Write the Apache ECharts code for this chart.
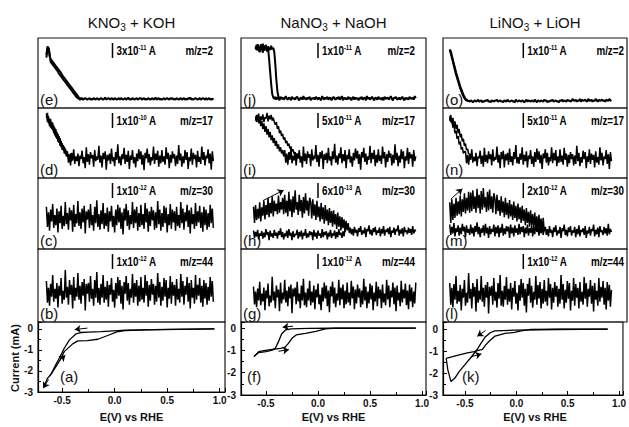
<!DOCTYPE html>
<html><head><meta charset="utf-8">
<script src="https://cdn.jsdelivr.net/npm/echarts@6/dist/echarts.min.js"></script>
<style>html,body{margin:0;padding:0;background:#fff}#c{width:629px;height:427px}</style>
</head><body><div id="c"></div>
<script>
// ---------- potential grid for the mass-spec traces (V vs RHE) ----------
const E = [
-0.65,-0.64,-0.63,-0.62,-0.61,-0.60,-0.59,-0.58,-0.57,-0.56,
-0.55,-0.54,-0.53,-0.52,-0.51,-0.50,-0.49,-0.48,-0.47,-0.46,
-0.45,-0.44,-0.43,-0.42,-0.41,-0.40,-0.39,-0.38,-0.37,-0.36,
-0.35,-0.34,-0.33,-0.32,-0.31,-0.30,-0.29,-0.28,-0.27,-0.26,
-0.25,-0.24,-0.23,-0.22,-0.21,-0.20,-0.19,-0.18,-0.17,-0.16,
-0.15,-0.14,-0.13,-0.12,-0.11,-0.10,-0.09,-0.08,-0.07,-0.06,
-0.05,-0.04,-0.03,-0.02,-0.01,0.00,0.01,0.02,0.03,0.04,
0.05,0.06,0.07,0.08,0.09,0.10,0.11,0.12,0.13,0.14,
0.15,0.16,0.17,0.18,0.19,0.20,0.21,0.22,0.23,0.24,
0.25,0.26,0.27,0.28,0.29,0.30,0.31,0.32,0.33,0.34,
0.35,0.36,0.37,0.38,0.39,0.40,0.41,0.42,0.43,0.44,
0.45,0.46,0.47,0.48,0.49,0.50,0.51,0.52,0.53,0.54,
0.55,0.56,0.57,0.58,0.59,0.60,0.61,0.62,0.63,0.64,
0.65,0.66,0.67,0.68,0.69,0.70,0.71,0.72,0.73,0.74,
0.75,0.76,0.77,0.78,0.79,0.80,0.81,0.82,0.83,0.84,
0.85,0.86,0.87,0.88,0.89,0.90,0.91,0.92,0.93,0.94];
const _ = null;

// ---------- KNO3 + KOH : ion currents (relative panel units 0-100) ----------
const e1 = [72,84,86,79,66,64,62,60,58,56,54,52,49,47,45,43,41,39,37,35,33,31,29,27,25,23,21,19,17,15,
14,13,12,13,14,12,13,14,13,12,13,14,12,13,12,14,13,12,14,13,12,13,14,13,12,13,15,12,13,14,
13,12,14,13,12,14,13,12,13,14,12,14,13,12,13,14,12,13,15,12,13,12,14,13,12,13,14,12,13,14,
14,12,13,14,12,13,12,14,13,12,13,14,12,13,15,12,13,14,12,13,12,13,14,12,13,14,13,12,14,13,
14,12,13,12,14,13,12,13,14,12,13,14,12,13,12,14,13,15,12,13,12,13,14,13,12,13,14,12,13,14,
13,12,14,12,13,14,12,13,12,14];
const e2 = [76,88,85,74,70,68,66,64,62,60,58,56,54,52,50,47,45,43,41,39,37,35,33,31,29,27,25,23,21,19,17,15,14,13,13,12];
const d1 = [92,80,88,74,84,70,79,64,72,58,66,52,60,46,53,40,47,35,42,31,
38,22,33,18,36,25,41,20,31,24,35,17,32,27,39,21,30,14,44,23,34,19,37,28,33,16,40,24,31,26,
46,22,32,15,36,27,38,12,33,25,35,20,42,24,30,17,37,26,48,21,31,18,34,27,43,20,33,23,39,13,
32,26,40,21,30,15,35,24,41,27,38,19,33,11,36,28,42,22,34,18,30,25,45,20,35,26,39,16,32,21,
40,23,31,19,44,27,36,14,33,22,38,28,34,17,32,20,47,25,35,16,31,21,40,26,37,13,30,24,42,19,
36,27,33,15,39,23,30,20,45,26,37,18,32,28,41,21,35,12,38,24];
const d2 = [86,93,78,85,72,80,68,75,61,70,56,63,50,57,44,50,40,45,34,39,30,34,27,35,24,31];
const c1 = [56,34,50,30,53,40,59,33,47,36,54,28,51,38,57,32,46,35,61,37,49,31,55,41,52,29,58,34,48,38,
62,35,50,32,54,39,57,27,51,42,53,33,59,36,47,30,56,38,63,34,48,31,52,37,60,32,49,35,55,29,
51,40,57,34,46,28,53,36,58,39,55,32,50,26,54,41,59,35,52,31,47,37,61,33,53,38,56,30,49,34,
58,36,48,32,60,39,54,29,51,35,56,41,52,31,50,33,62,37,53,30,49,34,57,38,55,28,48,36,59,32,
53,39,51,30,56,35,47,33,61,38,54,31,50,40,58,34,52,27,55,37,48,32,60,35,51,39,57,33,50,29,
56,36,53,31,49,34,58,38,54,33];
const b1 = [52,30,45,27,49,36,58,31,44,34,50,25,47,37,55,29,42,33,63,35,46,28,53,38,48,24,56,32,45,36,
60,33,47,29,51,37,54,22,49,39,50,31,57,34,44,27,53,35,61,30,45,28,49,35,58,30,46,33,52,26,
48,38,55,31,43,25,50,34,56,37,53,29,47,23,51,39,57,32,50,28,44,35,59,30,50,36,53,27,47,31,
56,33,45,30,58,37,52,26,48,32,54,38,49,28,47,31,60,35,51,27,46,32,55,36,53,25,45,34,57,29,
51,37,48,27,54,33,44,30,59,36,52,28,47,38,56,31,50,24,53,35,45,29,58,33,48,37,55,30,47,26,
53,34,50,28,46,32,56,36,52,31];

// ---------- NaNO3 + NaOH ----------
const j1 = [_,_,_,_,_,84,90,82,88,80,91,85,79,89,83,87,81,86,70,52,34,20,15,
13,16,12,15,14,11,16,13,15,12,14,17,13,12,15,14,11,16,13,14,12,15,16,13,11,14,15,12,17,13,
14,12,15,13,16,11,14,13,15,12,16,14,12,15,13,11,17,14,12,15,13,16,12,14,15,11,14,16,13,12,
15,13,16,12,14,17,11,15,13,14,12,16,13,15,11,14,16,12,15,13,14,11,15,13,16,12,14,15,11,17,
13,15,12,14,16,13,11,15,14,12,16,13,14,12,15,11,16,13,14,15,12,14,17,13,11,15,14,16,12,13,
15,12,14,16,13,11,15,13,14,12,16,14,13,15,12,17,14];
const j2 = [_,_,_,_,_,88,83,91,86,80,89,84,92,82,87,90,81,88,85,83,89,84,86,80,62,40,24,16,14,13];
const i1 = [_,_,_,_,_,88,80,90,78,85,74,82,70,78,66,74,62,70,58,66,54,61,50,57,46,53,42,48,38,44,35,40,31,
40,22,35,19,37,26,43,21,32,25,36,18,33,28,40,22,31,15,45,24,35,20,38,29,34,17,41,25,32,27,
47,23,33,16,37,28,39,13,34,26,36,21,43,25,31,18,38,27,49,22,32,19,35,28,44,21,34,24,40,14,
33,27,41,22,31,16,36,25,42,28,39,20,34,12,37,29,43,23,35,19,31,26,46,21,36,27,40,17,33,22,
41,24,32,20,45,28,37,15,34,23,39,29,35,18,33,21,48,26,36,17,32,22,41,27,38,14,31,25,43,20,
37,28,34,16,40,24,31];
const i2 = [_,_,_,_,_,82,90,84,92,79,88,83,91,80,87,85,93,81,89,84,90,82,86,80,
76,80,70,74,64,68,60,63,55,58,50,53,46,49,42,45,38,41,34,37,31,35,28,33,27];
const h1 = [_,_,_,58,36,60,40,55,42,64,38,57,46,66,41,60,47,70,44,63,49,72,45,66,52,62,48,73,50,64,54,
70,48,74,50,66,45,78,52,68,44,72,50,80,54,64,47,74,52,67,43,71,49,76,53,66,46,70,
64,42,68,46,61,40,66,44,58,38,63,41,57,35,60,39,54,33,56,36,52,31,53,34,48,28,50,31,45,26,44,29,41,24,39,26,36,23,
30,21,28,19,31,23,27,18,29,24,32,20,26,22,30,17,28,25,33,21,27,19,29,24,31,20,26,23,30,18,
28,22,32,19,27,24,29,21,31,17,26,23,30,20,28,25,33,19,27,22,29,18,31,24,26,21,30,23,28,20,
32,22,27,25];
const h2 = [_,_,_,26,16,24,18,27,14,22,19,25,15,23,17,28,20,24,13,26,18,22,16,27,19,23,15,25,20,29,17,24,14,
22,18,26,16,28,19,23,13,25,17,21,20,27,15,24,18,26,14,23,19,28,16,22,17,25,20,24,13,27,18,
23,15,26,19,22,16,28,17,24,20,25,14,23,18,27,16,22,19,26,15,24,17,28,20,23,16,25,18,27];
const g1 = [_,_,_,45,27,40,24,43,31,50,26,38,30,44,21,41,33,48,25,36,29,55,31,40,23,46,34,42,20,49,28,39,32,
52,29,41,25,45,33,47,18,43,35,44,27,50,30,38,23,46,31,53,26,39,24,43,31,51,26,40,29,46,22,
42,34,48,27,37,21,44,30,49,33,46,25,41,19,45,35,50,28,44,24,38,31,52,26,44,32,47,23,41,27,
49,29,39,26,51,33,45,22,42,28,47,34,43,24,41,27,53,31,45,23,40,28,48,32,46,21,39,30,50,25,
45,33,42,23,47,29,38,26,52,32,46,24,41,34,49,27,44,20,46,31,39,25,51,29,42,33,48,26,41,22,
47,30,44,24,40,28,49];

// ---------- LiNO3 + LiOH ----------
const o1 = [84,78,72,66,60,54,48,43,38,33,28,24,20,17,14,12,11,10,
10,9,11,10,8,10,11,9,10,12,9,10,11,8,10,9,11,10,12,9,10,8,11,10,9,11,10,12,9,10,
11,9,10,8,11,10,9,12,10,9,10,11,9,10,8,12,10,9,11,10,9,11,10,8,10,12,9,11,10,9,
11,10,9,12,10,8,11,10,9,11,10,9,12,10,11,8,10,9,11,10,12,9,10,11,9,10,8,11,10,12,
9,11,10,9,12,10,11,9,10,13,11,10,12,9,11,10,13,9,12,10,11,12,10,9,13,11,10,12,9,11,
10,13,11,9,12,10,11,12,10,11,9,12,11,10,13,11,10,_,_,_,_,_];
const o2 = [80,82,75,69,63,57,51,46,41,36,31,27,23,19,16,13,12,11,10,10];
const n1 = [88,80,84,72,76,64,68,56,60,48,52,41,44,35,38,
38,21,33,19,35,26,41,22,30,24,36,17,31,28,39,20,32,16,43,23,33,21,38,27,34,18,41,24,30,26,
45,22,33,14,37,27,39,15,34,25,36,19,42,23,31,18,37,27,47,21,30,20,35,26,44,19,33,24,38,15,
32,27,40,20,31,16,37,23,42,26,38,21,33,13,35,28,41,22,36,18,30,24,44,21,36,25,40,17,31,22,
41,23,32,19,43,26,35,16,33,21,37,27,34,18,32,20,46,24,36,17,30,22,39,27,37,14,31,23,41,20,
35,26,33,15,38,22,30,19,44,25,36,18,31,27,40,20,34,13,37,24,_,_,_,_,_];
const n2 = [82,90,78,86,74,81,70,76,64,70,58,63,52,56,46,49,40,42,34];
const m1 = [64,36,68,40,62,43,70,46,65,48,73,45,68,51,76,49,70,53,78,50,
77,52,80,55,72,50,82,56,74,49,79,54,83,57,71,51,78,53,81,55,72,50,76,
69,48,74,52,67,46,72,50,65,44,70,47,63,42,67,45,61,40,65,43,59,38,62,41,57,36,59,39,54,33,56,36,51,31,53,33,48,29,50,30,45,26,47,28,42,24,43,25,
31,20,28,18,32,23,27,17,30,24,33,19,26,22,31,16,29,25,34,20,27,18,30,24,32,19,26,23,31,17,
28,21,33,18,27,24,29,20,32,16,26,22,31,19,28,25,34,18,27,21,30,17,32,24,26,20,31,22,29,19,
35,21,28,24,_,_,_,_,_];
const m2 = [34,20,31,22,36,18,29,24,33,19,30,21,35,25,31,17,33,23,28,20,34,22,30,18,32,24,37,21,31,17,
29,23,33,19,35,22,30,16,32,21,28,24,34,18,31,22,33,17,30,23,35,19,29,21,32,25,31,16,34,22,
30,18,33,23,29,20,35,21,31,24,32,17,30,22,34,19,29,23,33,18,31,21,36,24,30,19,32,22,34,20,28];
const l1 = [50,28,45,25,49,33,57,29,42,31,48,22,44,35,53,27,40,30,60,34,44,24,50,36,46,21,54,30,42,33,
57,31,45,26,48,35,51,19,46,37,47,28,55,32,41,25,50,34,58,27,42,26,47,33,56,28,44,31,50,23,
45,36,52,29,40,22,48,32,54,35,50,27,44,20,49,37,55,30,47,25,41,33,57,28,48,34,51,24,44,29,
53,31,42,27,55,35,49,23,45,30,51,36,47,26,44,29,58,33,49,24,43,30,52,34,50,22,42,32,55,27,
49,35,45,24,51,31,41,28,56,34,50,26,44,36,53,29,47,21,50,33,42,27,55,31,46,35,52,28,45,23,
51,32,48,26,43,_,_,_,_,_];

// ---------- cyclic voltammograms: E (V) and current (mA) ----------
const aUpE = [0.95,0.5,0.1,0.03,-0.13,-0.25,-0.32,-0.37,-0.43,-0.48,-0.52,-0.57,-0.60,-0.64,-0.67];
const aUpI = [0.0,-0.02,-0.06,-0.08,-0.13,-0.15,-0.17,-0.24,-0.52,-0.92,-1.32,-1.79,-2.11,-2.35,-2.71];
const aLoE = [-0.62,-0.59,-0.52,-0.48,-0.40,-0.35,-0.26,-0.16,-0.06,0.02,0.10,0.30,0.95];
const aLoI = [-2.25,-2.03,-1.48,-1.08,-0.71,-0.57,-0.56,-0.49,-0.30,-0.14,-0.08,-0.04,0.0];
const fUpE = [0.94,0.5,0.1,-0.09,-0.26,-0.31,-0.35,-0.38,-0.41,-0.44,-0.50,-0.57,-0.60,-0.615];
const fUpI = [0.0,-0.01,-0.01,-0.02,-0.04,-0.08,-0.27,-0.61,-0.91,-0.99,-1.06,-1.10,-1.21,-1.28];
const fLoE = [-0.615,-0.57,-0.52,-0.44,-0.36,-0.32,-0.285,-0.25,-0.21,-0.12,-0.02,0.07,0.17,0.40,0.94];
const fLoI = [-1.28,-1.06,-1.01,-0.96,-0.91,-0.87,-0.69,-0.46,-0.31,-0.24,-0.15,-0.04,0.0,0.0,0.0];
const kUpE = [0.89,0.4,-0.017,-0.21,-0.255,-0.30,-0.34,-0.38,-0.436,-0.49,-0.557,-0.60,-0.636,-0.667,-0.683];
const kUpI = [0.0,-0.02,-0.05,-0.08,-0.17,-0.35,-0.62,-0.92,-1.26,-1.56,-1.94,-2.24,-2.39,-1.86,-1.33];
const kLoE = [-0.683,-0.62,-0.556,-0.476,-0.41,-0.38,-0.33,-0.30,-0.26,-0.207,-0.11,-0.017,0.047,0.14,0.40,0.89];
const kLoI = [-1.33,-1.26,-1.18,-1.08,-1.03,-0.98,-0.92,-0.73,-0.53,-0.32,-0.20,-0.15,-0.08,-0.02,0.0,0.0];

// scan-direction arrows [x1,y1,x2,y2] in data units
const arrowsA = [[-0.26,0.04,-0.38,-0.03],[-0.53,-1.52,-0.47,-1.25],[-0.63,-2.4,-0.68,-2.82]];
const arrowsF = [[-0.24,0.08,-0.34,0.04],[-0.38,-1.04,-0.28,-0.97]];
const arrowsK = [[-0.30,-0.07,-0.38,-0.33],[-0.44,-1.26,-0.34,-1.13]];
const arrowH = [-0.53,66,-0.33,80];
const arrowM = [-0.64,68,-0.53,82];

// labels
const titles = ['KNO{s|3} + KOH','NaNO{s|3} + NaOH','LiNO{s|3} + LiOH'];
const scaleMant = [['3x10','1x10','1x10','1x10'],['1x10','5x10','6x10','1x10'],['1x10','5x10','2x10','1x10']];
const scaleExp  = [['-11','-10','-12','-12'],['-11','-11','-13','-12'],['-11','-11','-12','-12']];
const mzLabels = ['m/z=2','m/z=17','m/z=30','m/z=44'];
const panelLetters = [['(e)','(d)','(c)','(b)','(a)'],['(j)','(i)','(h)','(g)','(f)'],['(o)','(n)','(m)','(l)','(k)']];
const cvLabels = ['0','-1','-2','-3'];

// ---------- layout ----------
const cols = [
 {left:38, right:225, xmin:-0.73, xmax:1.051, cvBottom:392, ymax:0.33, barX:112.5, mzRight:213, cvLetterX:60},
 {left:241, right:426, xmin:-0.74, xmax:1.038, cvBottom:395, ymax:0.27, barX:318, mzRight:415, cvLetterX:247},
 {left:443, right:627, xmin:-0.714, xmax:1.038, cvBottom:395, ymax:0.32, barX:523.3, mzRight:624, cvLetterX:462}
];
const rowTops = [38,108,178,249,322];
// vertical magnification of each ion-current panel (row order 2,17,30,44)
const rowGain = [1, 1, 1.3, 1.35];
const ms = [[[e1,e2],[d1,d2],[c1],[b1]],[[j1,j2],[i1,i2],[h1,h2],[g1]],[[o1,o2],[n1,n2],[m1,m2],[l1]]];
const msCenter = [[13,29,44,40],[14,30,25,35],[10,29,25,40]];
const cv = [[[aUpE,aUpI],[aLoE,aLoI]],[[fUpE,fUpI],[fLoE,fLoI]],[[kUpE,kUpI],[kLoE,kLoI]]];
const cvArrows = [arrowsA, arrowsF, arrowsK];
const msArrows = {'1_2':arrowH, '2_2':arrowM};

function zip(xs, ys){ const out=[]; for(let i=0;i<xs.length&&i<ys.length;i++){ if(ys[i]!==null) out.push([xs[i],ys[i]]); } return out; }
function arrowML(list, curve){
  return {silent:true, symbol:['none','arrow'], symbolSize:6, animation:false,
    lineStyle:{color:'#000', width:1, type:'solid', curveness:curve||0}, label:{show:false},
    emphasis:{disabled:true},
    data:list.map(a=>[{coord:[a[0],a[1]]},{coord:[a[2],a[3]]}])};
}

const FN = "'Liberation Sans Narrow','Liberation Sans',Arial,sans-serif";
const FS = "'Liberation Sans',Arial,sans-serif";
const grids=[], xAxes=[], yAxes=[], series=[], gfx=[];

cols.forEach((c,ci)=>{
  for(let r=0;r<5;r++){
    const gi = ci*5+r;
    const top = rowTops[r];
    const bottom = r<4 ? rowTops[r+1] : c.cvBottom;
    grids.push({left:c.left, top:top, width:c.right-c.left, height:bottom-top, show:true,
      borderColor:'#1a1a1a', borderWidth:1.2, backgroundColor:'transparent', containLabel:false});
    if(r<4){
      const gsc = (ci>0 && r===2) ? 1.05 : rowGain[r];
      const cen = msCenter[ci][r];
      const ymin = cen*(1-1/gsc);
      xAxes.push({gridIndex:gi, type:'value', min:c.xmin, max:c.xmax, show:false});
      yAxes.push({gridIndex:gi, type:'value', min:ymin, max:ymin+100/gsc, show:false});
      const branches = ms[ci][r];
      branches.forEach((arr,bi)=>{
        const s = {type:'line', xAxisIndex:gi, yAxisIndex:gi, data:zip(E,arr), showSymbol:false, symbol:'none',
          silent:true, animation:false, lineStyle:{color:'#000', width: r===0?2:1.5}};
        if(bi===0 && msArrows[ci+'_'+r]) s.markLine = arrowML([msArrows[ci+'_'+r]], -0.3);
        series.push(s);
      });
      // scale bar and labels
      gfx.push({type:'line', shape:{x1:c.barX, y1:top+5, x2:c.barX, y2:top+20}, style:{stroke:'#000', lineWidth:1.5}});
      gfx.push({type:'text', x:c.barX+4, y:top+13, scaleX:0.82, style:{text:'{n|'+scaleMant[ci][r]+'}{p|'+scaleExp[ci][r]+'}{n| A}',
        align:'left', verticalAlign:'middle', fill:'#000',
        rich:{n:{fontSize:12, fontWeight:'bold', fontFamily:FN, lineHeight:14, fill:'#000'},
              p:{fontSize:7, fontWeight:'bold', fontFamily:FN, lineHeight:8, verticalAlign:'top', fill:'#000'}}}});
      gfx.push({type:'text', x:c.mzRight, y:top+13, scaleX:0.82, style:{text:mzLabels[r], align:'right', verticalAlign:'middle',
        fill:'#000', fontSize:12, fontWeight:'bold', fontFamily:FN}});
      gfx.push({type:'text', x:c.left+2, y:bottom-1, style:{text:panelLetters[ci][r], align:'left', verticalAlign:'bottom',
        fill:'#111', fontSize:15, fontFamily:FS}});
    } else {
      xAxes.push({gridIndex:gi, type:'value', min:c.xmin, max:c.xmax, splitNumber:4,
        axisLine:{show:true, onZero:false, lineStyle:{color:'#000', width:1.2}},
        axisTick:{show:true, inside:true, length:4, lineStyle:{color:'#000'}},
        minorTick:{show:true, splitNumber:2, length:3, lineStyle:{color:'#000'}},
        splitLine:{show:false},
        axisLabel:{color:'#111', fontWeight:'bold', fontSize:10, fontFamily:FS, margin:3,
          formatter:v=>{ const t=v*2; return Math.abs(t-Math.round(t))<1e-6 ? v.toFixed(1) : ''; }}});
      yAxes.push({gridIndex:gi, type:'value', min:-3, max:c.ymax, interval:1,
        axisLine:{show:true, onZero:false, lineStyle:{color:'#000', width:1.2}},
        axisTick:{show:true, inside:true, length:4, lineStyle:{color:'#000'}},
        minorTick:{show:true, splitNumber:2, length:3, lineStyle:{color:'#000'}},
        splitLine:{show:false},
        axisLabel:{color:'#111', fontWeight:'bold', fontSize:10, fontFamily:FS, margin:5,
          formatter:v=> (Math.abs(v-Math.round(v))<1e-6 && cvLabels.indexOf(String(Math.round(v)))>=0) ? String(Math.round(v)) : ''}});
      cv[ci].forEach((pair,bi)=>{
        const s = {type:'line', xAxisIndex:gi, yAxisIndex:gi, data:zip(pair[0],pair[1]), showSymbol:false, symbol:'none',
          silent:true, animation:false, lineStyle:{color:'#000', width:1.3}};
        if(bi===0) s.markLine = arrowML(cvArrows[ci], 0);
        series.push(s);
      });
      gfx.push({type:'text', x:c.cvLetterX, y:376, style:{text:panelLetters[ci][4], align:'left', verticalAlign:'middle',
        fill:'#111', fontSize:15, fontFamily:FS}});
      gfx.push({type:'text', x:(c.left+c.right)/2, y:417, style:{text:'E(V) vs RHE', align:'center', verticalAlign:'middle',
        fill:'#111', fontSize:11, fontWeight:'bold', fontFamily:FS}});
    }
  }
  gfx.push({type:'text', x:(c.left+c.right)/2, y:22, style:{text:titles[ci], align:'center', verticalAlign:'middle',
    fill:'#111', fontSize:15, fontFamily:FS, lineHeight:20,
    rich:{s:{fontSize:10, fontFamily:FS, lineHeight:12, verticalAlign:'bottom', fill:'#111'}}}});
});
gfx.push({type:'text', x:15, y:358, rotation:Math.PI/2, style:{text:'Current (mA)', align:'center', verticalAlign:'middle',
  fill:'#111', fontSize:11, fontWeight:'bold', fontFamily:FS}});

const chart = echarts.init(document.getElementById('c'), null, {renderer:'svg', width:629, height:427});
chart.setOption({animation:false, backgroundColor:'#fff', grid:grids, xAxis:xAxes, yAxis:yAxes, series:series, graphic:{elements:gfx}});
</script>
</body></html>
